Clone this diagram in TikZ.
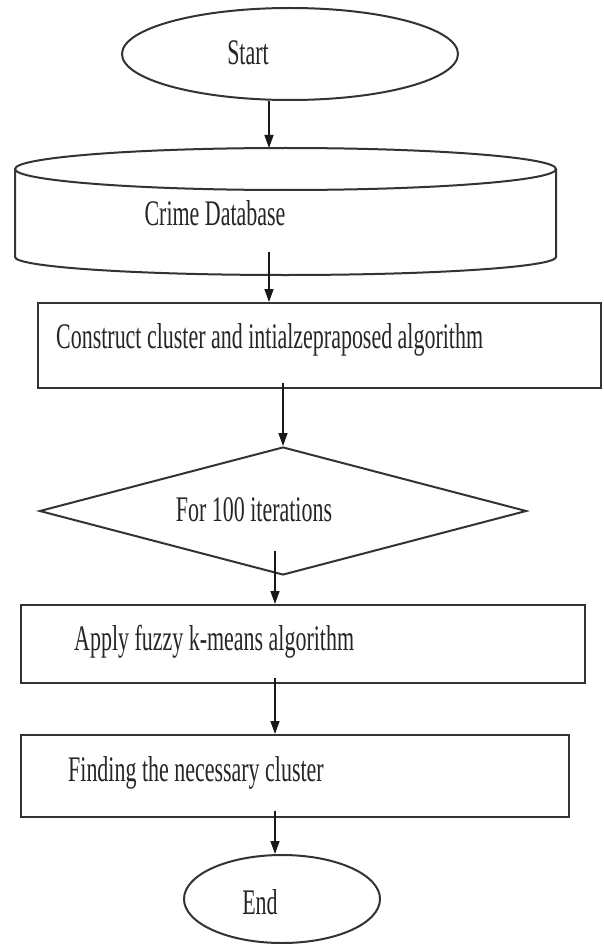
\documentclass[tikz,border=0pt]{standalone}
\usepackage{graphicx}
\usepackage{fontspec}
\setmainfont{Liberation Serif}
\usetikzlibrary{shapes.geometric,arrows.meta}
\newcommand\sqz[1]{\scalebox{0.61}[1]{#1}}
\tikzset{
  shp/.style={draw=black!80, line width=2pt, fill=white, inner sep=0pt},
  boxnode/.style={shp, rectangle},
  ovalnode/.style={shp, ellipse},
  decnode/.style={shp, diamond},
  txt/.style={inner sep=0pt, text=black!85, font=\fontsize{36}{40}\selectfont},
  arr/.style={draw=black!90, line width=1.4pt, -{Triangle[length=13pt,width=9pt]}}
}
\begin{document}
\begin{tikzpicture}[x=1pt,y=-1pt]
\useasboundingbox (0,0) rectangle (603,944);
% Start
\node[ovalnode, minimum width=336, minimum height=92] (start) at (290,54) {};
\node[txt] (tstart) at (248,53) {\sqz{Start}};
% Cylinder (database)
\draw[draw=black!80, line width=2pt, fill=white]
  (15,169) -- (15,257) arc[start angle=180, end angle=0, x radius=270.5, y radius=18] -- (556,169);
\draw[draw=black!80, line width=2pt, fill=white] (285.5,169) ellipse[x radius=270.5, y radius=21];
\coordinate (dbtop) at (269,148);
\coordinate (dbin) at (269,252);
\node[txt] (tdb) at (215,213) {\sqz{Crime Database}};
% Rect 1
\node[boxnode, minimum width=563, minimum height=85] (r1) at (319.5,345.5) {};
\node[txt, anchor=west] (t1) at (56,340) {\sqz{Construct cluster and intialzepraposed algorithm}};
% Diamond
\node[decnode, minimum width=487, minimum height=128] (dia) at (283,511) {};
\node[txt] (tdia) at (254,510) {\sqz{For 100 iterations}};
% Rect 2
\node[boxnode, minimum width=564, minimum height=78] (r2) at (303,644) {};
\node[txt, anchor=west] (t2) at (74,642) {\sqz{Apply fuzzy k-means algorithm}};
% Rect 3
\node[boxnode, minimum width=548, minimum height=82] (r3) at (295,776) {};
\node[txt, anchor=west] (t3) at (68,773) {\sqz{Finding the necessary cluster}};
% End
\node[ovalnode, minimum width=196, minimum height=88] (end) at (282,899) {};
\node[txt] (tend) at (260,902) {\sqz{End}};
% connectors
\coordinate (ax) at (275,0);
\draw[arr] (start.south -| dbtop) -- (dbtop);
\draw[arr] (dbin) -- (r1.north -| dbin);
\draw[arr] ([yshift=6pt]r1.south -| dia.north) -- (dia.north);
\draw[arr] ([yshift=25pt]dia.south -| ax) -- (r2.north -| ax);
\draw[arr] ([yshift=6pt]r2.south -| ax) -- (r3.north -| ax);
\draw[arr] ([yshift=7pt]r3.south -| ax) -- (end.north -| ax);
\end{tikzpicture}
\end{document}
